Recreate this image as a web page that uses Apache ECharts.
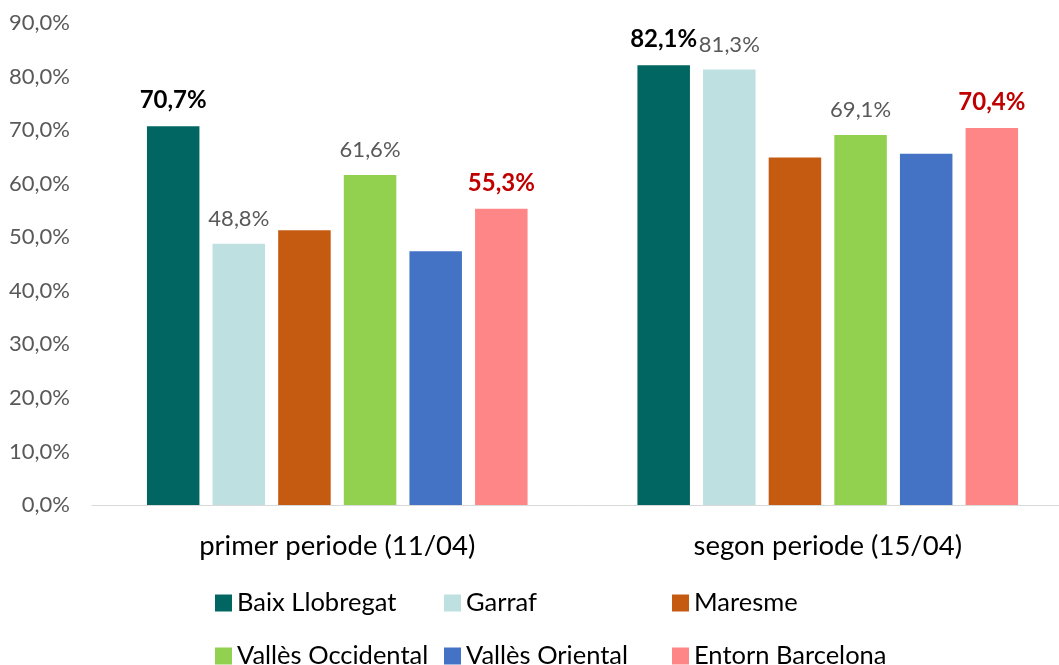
<!DOCTYPE html>
<html>
<head>
<meta charset="utf-8">
<script src="https://cdn.jsdelivr.net/npm/echarts@6/dist/echarts.min.js"></script>
<style>
  html, body { margin: 0; padding: 0; background: #fff; overflow: hidden; }
  /* plot area runs a little past the right edge in the original */
  #chart { width: 1073px; height: 665px; }
</style>
</head>
<body>
<div id="chart"></div>
<script>
// periods on the x axis
const categories = ['primer periode (11/04)', 'segon periode (15/04)']
const seriesNames = ['Baix Llobregat', 'Garraf', 'Maresme', 'Vallès Occidental', 'Vallès Oriental', 'Entorn Barcelona']

// values in %
const baixLlobregat = [70.7, 82.1]
const garraf = [48.8, 81.3]
const maresme = [51.3, 64.9]
const vallesOccidental = [61.6, 69.1]
const vallesOriental = [47.4, 65.6]
const entornBarcelona = [55.3, 70.4]

const yTicks = [0, 10, 20, 30, 40, 50, 60, 70, 80, 90]

const colors = ['#016662', '#BEE0E0', '#C55A11', '#92D050', '#4472C4', '#FF8686']
const FONT = 'Lato, "Open Sans", sans-serif'

const fmt = v => v.toFixed(1).replace('.', ',') + '%'

// label style per series (null = no label)
const labelStyles = [
  { color: '#000000', fontWeight: 'bold', fontSize: 24 },
  { color: '#595959', fontWeight: 'normal', fontSize: 22 },
  null,
  { color: '#595959', fontWeight: 'normal', fontSize: 22 },
  null,
  { color: '#C00000', fontWeight: 'bold', fontSize: 24 }
]

const values = [baixLlobregat, garraf, maresme, vallesOccidental, vallesOriental, entornBarcelona]

const chart = echarts.init(document.getElementById('chart'))

const series = seriesNames.map((name, i) => {
  const ls = labelStyles[i]
  return {
    name: name,
    type: 'bar',
    data: values[i],
    barGap: '25%',
    barCategoryGap: '22.4%',
    itemStyle: { color: colors[i] },
    label: ls ? {
      show: true,
      position: 'top',
      distance: 14,
      fontFamily: FONT,
      fontSize: ls.fontSize,
      color: ls.color,
      fontWeight: ls.fontWeight,
      formatter: p => fmt(p.value)
    } : { show: false }
  }
})

// legend laid out as a 3x2 grid, one legend per item
const legendPos = [
  [215, 588], [444, 588], [672, 588],
  [215, 641], [444, 641], [672, 641]
]

chart.setOption({
  animation: false,
  color: colors,
  grid: { left: 92, width: 981, top: 23, bottom: 160, containLabel: false },
  xAxis: {
    type: 'category',
    data: categories,
    axisTick: { show: false },
    axisLine: { lineStyle: { color: '#D9D9D9', width: 1 } },
    axisLabel: { fontFamily: FONT, fontSize: 27.5, color: '#000', margin: 27 }
  },
  yAxis: {
    type: 'value',
    min: yTicks[0],
    max: yTicks[yTicks.length - 1],
    interval: 10,
    splitLine: { show: false },
    axisLine: { show: false },
    axisTick: { show: false },
    axisLabel: {
      fontFamily: FONT, fontSize: 22, color: '#595959', margin: 22,
      formatter: v => fmt(v)
    }
  },
  legend: seriesNames.map((name, i) => ({
    left: legendPos[i][0],
    top: legendPos[i][1],
    padding: 0,
    itemWidth: 17,
    itemHeight: 17,
    itemGap: 6,
    icon: 'rect',
    selectedMode: false,
    textStyle: { fontFamily: FONT, fontSize: 25.5, color: '#000', lineHeight: 30 },
    data: [name]
  })),
  series: series
})
</script>
</body>
</html>
